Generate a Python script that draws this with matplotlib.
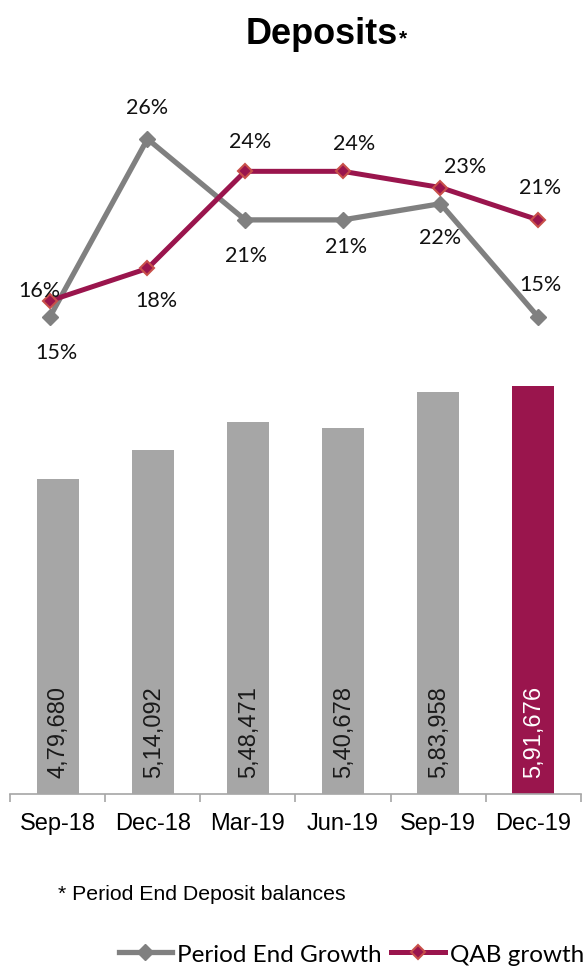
"""
Deposits: period end balances (bars) with period end growth and QAB growth (lines)
"""

import matplotlib
matplotlib.use('Agg')
from matplotlib import pyplot as plt

quarters = ['Sep-18', 'Dec-18', 'Mar-19', 'Jun-19', 'Sep-19', 'Dec-19']
deposits = [479680, 514092, 548471, 540678, 583958, 591676]
deposit_labels = ['4,79,680', '5,14,092', '5,48,471', '5,40,678', '5,83,958', '5,91,676']
period_end_growth = [15, 26, 21, 21, 22, 15]
qab_growth = [16, 18, 24, 24, 23, 21]

GREY_BAR = '#A6A6A6'
GREY_LINE = '#808080'
MAROON = '#9A154D'
MARKER_EDGE = '#C8504A'

W, H = 584, 970
fig = plt.figure(figsize=(W / 100, H / 100), dpi=100)


def box(left, top, right, bottom):
    # pixel box -> figure fraction [x, y, w, h]
    return [left / W, 1 - bottom / H, (right - left) / W, (bottom - top) / H]


# --- bars ---
ax = fig.add_axes(box(10, 380, 581, 795))
x = range(len(quarters))
colors = [GREY_BAR] * (len(quarters) - 1) + [MAROON]
ax.bar(x, deposits, width=0.44, color=colors, bottom=0)
ax.set_ylim(100000, 600000)
ax.set_xlim(-0.5, len(quarters) - 0.5)
for s in ['top', 'left', 'right']:
    ax.spines[s].set_visible(False)
ax.spines['bottom'].set_color('#A6A6A6')
ax.spines['bottom'].set_linewidth(1.2)
ax.set_yticks([])
# tick marks sit between categories, names sit under the bars
ax.set_xticks([i - 0.5 for i in range(len(quarters) + 1)], minor=False)
ax.set_xticklabels([])
ax.tick_params(axis='x', which='major', direction='out', length=6, color='#A6A6A6', width=1.2)
ax.set_xticks(list(x), minor=True)
ax.set_xticklabels(quarters, minor=True, fontsize=17, family='Liberation Sans')
ax.tick_params(axis='x', which='minor', length=0, pad=13)

for i, (v, lab) in enumerate(zip(deposits, deposit_labels)):
    tc = 'white' if i == len(deposits) - 1 else '#1a1a1a'
    ax.annotate(lab, xy=(i, 100000), xytext=(1, 17), textcoords='offset pixels',
                rotation=90, ha='center', va='bottom', fontsize=17,
                family='Liberation Sans', color=tc)

# --- growth lines ---
lx = fig.add_axes(box(1, 100, 587, 340))
lx.set_xlim(-0.5, len(quarters) - 0.5)
lx.set_ylim(13.64, 28.47)
lx.axis('off')
lx.plot(x, period_end_growth, color=GREY_LINE, lw=3.8, marker='D', markersize=8.5,
        markerfacecolor=GREY_LINE, markeredgecolor=GREY_LINE, label='Period End Growth',
        solid_joinstyle='miter')
lx.plot(x, qab_growth, color=MAROON, lw=3.6, marker='D', markersize=7.5,
        markerfacecolor=MAROON, markeredgecolor=MARKER_EDGE, markeredgewidth=1.5,
        label='QAB growth')

# label offsets in pixels (dx, dy up)
pe_off = [(7, -35), (0, 32), (1, -35), (3, -26), (0, -33), (2, 33)]
qab_off = [(-10, 11), (9, -32), (5, 30), (11, 28), (25, 22), (2, 33)]
for i in x:
    lx.annotate(f'{period_end_growth[i]}%', xy=(i, period_end_growth[i]),
                xytext=pe_off[i], textcoords='offset pixels', ha='center', va='center',
                fontsize=15.5, family='Lato', color='#111111')
    lx.annotate(f'{qab_growth[i]}%', xy=(i, qab_growth[i]),
                xytext=qab_off[i], textcoords='offset pixels', ha='center', va='center',
                fontsize=15.5, family='Lato', color='#111111')

# --- title, footnote, legend ---
fig.text(398 / W, 1 - 44 / H, 'Deposits', ha='right', va='baseline',
         fontsize=26, fontweight='bold', family='Liberation Sans')
fig.text(399 / W, 1 - 44 / H, '*', ha='left', va='baseline',
         fontsize=15, fontweight='bold', family='Liberation Sans')
fig.text(58 / W, 1 - 895 / H, '* Period End Deposit balances', ha='left', va='center',
         fontsize=15.3, family='Liberation Sans')

handles, labels = lx.get_legend_handles_labels()
fig.legend(handles, labels, loc='center right', bbox_to_anchor=(584 / W, 1 - 955 / H),
           ncol=2, frameon=False, prop={'family': 'Lato', 'size': 17.5},
           handlelength=2.2, handletextpad=0.2, columnspacing=0.4, borderaxespad=0,
           borderpad=0)

fig.savefig('out.png', dpi=100)
